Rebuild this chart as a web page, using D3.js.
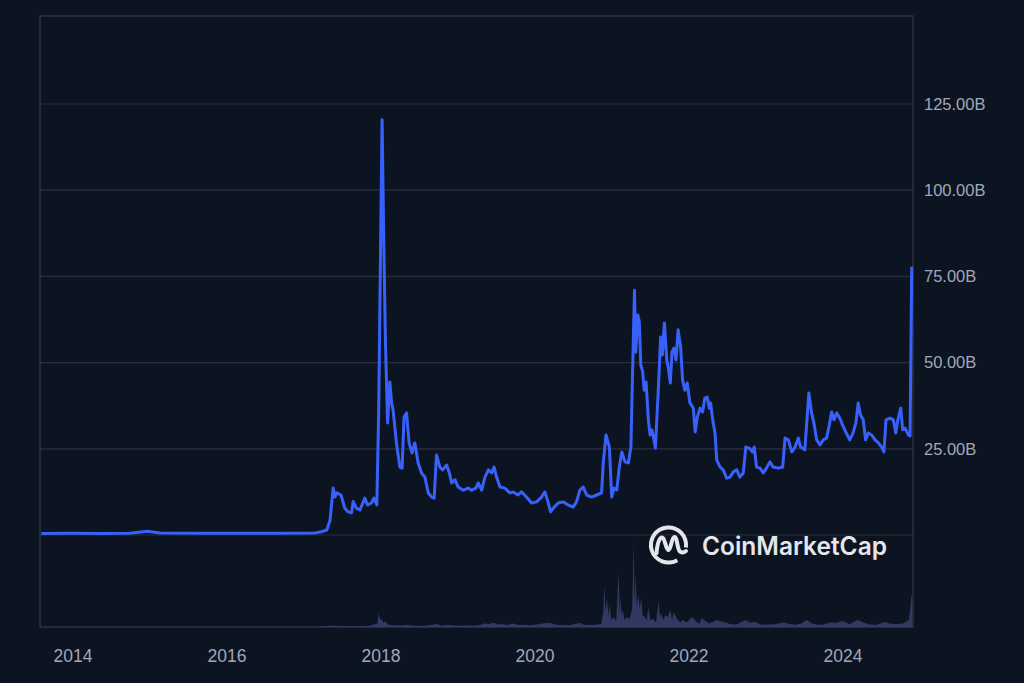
<!DOCTYPE html>
<html>
<head>
<meta charset="utf-8">
<script src="https://cdn.jsdelivr.net/npm/d3@7"></script>
<style>
  html, body { margin: 0; padding: 0; background: #0d1421; }
  svg { display: block; }
</style>
</head>
<body>
<svg id="chart" width="1024" height="683"></svg>
<script>
// ---------- DATA (market cap, billions USD) ----------
const capDates = [
"2013-08-04","2013-12-17","2014-05-08","2014-09-27","2014-12-22","2015-02-17","2015-08-25","2016-03-03","2016-09-09","2017-02-21",
"2017-03-25","2017-04-19","2017-05-04","2017-05-19","2017-05-27","2017-06-05","2017-06-25","2017-07-13","2017-07-29","2017-08-14",
"2017-08-22","2017-09-06","2017-09-23","2017-10-16","2017-10-29","2017-11-17","2017-11-28","2017-12-12","2017-12-21","2017-12-30",
"2018-01-06","2018-01-14","2018-01-22","2018-02-01","2018-02-12","2018-02-20","2018-02-27","2018-03-15","2018-03-31","2018-04-11",
"2018-04-20","2018-05-02","2018-05-14","2018-05-28","2018-06-10","2018-06-26","2018-07-12","2018-07-28","2018-08-13","2018-08-29",
"2018-09-10","2018-09-21","2018-10-07","2018-10-20","2018-11-08","2018-11-21","2018-12-02","2018-12-18","2019-01-02","2019-01-26",
"2019-02-19","2019-03-07","2019-03-27","2019-04-07","2019-04-23","2019-05-09","2019-05-25","2019-06-10","2019-06-21","2019-07-03",
"2019-07-19","2019-08-11","2019-09-04","2019-09-20","2019-10-13","2019-10-29","2019-11-22","2019-12-16","2020-01-09","2020-02-01",
"2020-02-17","2020-03-04","2020-03-15","2020-03-28","2020-04-20","2020-05-14","2020-06-07","2020-06-30","2020-07-16","2020-08-01",
"2020-08-17","2020-09-02","2020-09-26","2020-10-20","2020-11-12","2020-11-20","2020-12-03","2020-12-19","2020-12-30","2021-01-10",
"2021-01-23","2021-02-04","2021-02-16","2021-03-03","2021-03-19","2021-03-31","2021-04-09","2021-04-17","2021-04-23","2021-05-03",
"2021-05-10","2021-05-17","2021-05-26","2021-06-02","2021-06-11","2021-06-22","2021-06-30","2021-07-08","2021-07-16","2021-07-25",
"2021-08-08","2021-08-19","2021-08-27","2021-09-06","2021-09-17","2021-09-26","2021-10-04","2021-10-12","2021-10-21","2021-10-31",
"2021-11-10","2021-11-22","2021-12-01","2021-12-12","2021-12-23","2022-01-05","2022-01-21","2022-01-30","2022-02-09","2022-02-22",
"2022-03-06","2022-03-17","2022-03-28","2022-04-07","2022-04-13","2022-04-23","2022-05-04","2022-05-12","2022-05-28","2022-06-12",
"2022-06-28","2022-07-14","2022-07-30","2022-08-15","2022-08-30","2022-09-15","2022-09-27","2022-10-13","2022-10-29","2022-11-06",
"2022-11-17","2022-12-03","2022-12-19","2023-01-03","2023-01-19","2023-02-04","2023-02-28","2023-03-21","2023-04-01","2023-04-17",
"2023-05-03","2023-05-19","2023-06-03","2023-06-14","2023-07-04","2023-07-15","2023-07-23","2023-08-05","2023-08-16","2023-08-29",
"2023-09-14","2023-09-29","2023-10-15","2023-10-28","2023-11-08","2023-11-19","2023-12-02","2023-12-17","2023-12-30","2024-01-14",
"2024-02-02","2024-02-18","2024-03-02","2024-03-13","2024-03-24","2024-04-06","2024-04-17","2024-04-30","2024-05-16","2024-06-01",
"2024-06-17","2024-07-02","2024-07-13","2024-07-23","2024-08-11","2024-08-27","2024-09-07","2024-09-17","2024-10-01","2024-10-10",
"2024-10-21","2024-11-06","2024-11-14","2024-11-22"
];
const capValues = [
0.45,0.5,0.45,0.5,1.1,0.6,0.5,0.5,0.5,0.6,
0.95,1.45,4.3,13.6,11.0,12.2,11.6,7.8,6.7,6.4,
9.7,7.8,7.25,10.7,8.7,9.3,10.7,8.7,36.3,84.7,
120.4,84.7,55.7,32.5,44.4,38.3,36.3,26.7,19.7,19.4,
34.2,35.4,26.7,23.8,26.7,20.9,18.0,16.8,12.2,11.0,
10.7,23.2,19.7,18.9,20.3,18.0,15.1,16.0,13.9,13.0,
13.6,13.0,13.6,15.1,13.0,16.8,18.9,18.0,19.7,16.8,
13.9,13.6,12.2,12.5,11.6,12.5,11.0,9.3,9.6,11.0,
12.5,9.3,6.7,7.8,9.3,9.6,8.7,8.1,9.6,13.0,
13.9,11.6,11.0,11.6,12.2,20.9,29.0,25.5,11.0,13.6,
13.0,19.7,24.1,21.2,20.9,25.5,49.9,71.0,53.0,63.8,
61.8,49.3,47.3,42.0,44.4,33.4,29.0,30.5,28.4,25.2,
42.0,57.4,52.2,61.5,50.8,47.9,44.1,53.1,54.2,50.8,
59.5,54.5,45.0,42.0,44.1,38.3,36.8,29.9,34.2,36.8,
35.7,39.7,40.0,36.8,38.3,33.4,29.6,21.8,19.7,18.9,
16.5,16.8,18.3,18.9,16.8,18.0,25.5,25.2,24.1,25.5,
19.7,19.4,18.0,19.4,21.2,19.7,19.4,19.7,28.1,27.6,
24.1,25.5,28.1,25.5,24.7,34.2,41.2,35.4,32.5,27.6,
26.1,27.6,28.1,31.9,35.7,33.4,35.4,33.9,31.9,29.9,
27.6,29.6,32.5,38.3,34.8,33.4,27.6,29.6,29.0,27.6,
26.7,25.5,24.1,33.4,33.9,33.4,29.6,33.4,36.8,30.5,
31.0,29.0,28.7,77.8
];

// ---------- DATA (volume, billions USD) ----------
const volDates = [
"2017-03-15","2017-05-20","2017-07-01","2017-09-01","2017-11-01","2017-12-15","2017-12-21","2017-12-28","2018-01-05","2018-01-12",
"2018-01-18","2018-02-05","2018-03-01","2018-04-01","2018-05-01","2018-06-01","2018-07-01","2018-08-01","2018-09-21","2018-10-15",
"2018-11-15","2018-12-15","2019-01-15","2019-02-15","2019-03-15","2019-04-10","2019-05-10","2019-05-25","2019-06-20","2019-07-10",
"2019-08-01","2019-08-20","2019-09-20","2019-10-15","2019-11-10","2019-12-10","2020-01-15","2020-02-15","2020-03-12","2020-04-10",
"2020-05-10","2020-06-10","2020-07-10","2020-08-01","2020-08-20","2020-09-20","2020-10-20","2020-11-10","2020-11-20","2020-11-25",
"2020-12-01","2020-12-08","2020-12-14","2020-12-20","2020-12-29","2021-01-10","2021-01-20","2021-02-01","2021-02-06","2021-02-10",
"2021-02-15","2021-02-20","2021-03-01","2021-03-10","2021-03-25","2021-04-06","2021-04-13","2021-04-18","2021-04-22","2021-04-28",
"2021-05-05","2021-05-12","2021-05-19","2021-05-26","2021-06-05","2021-06-14","2021-06-22","2021-07-01","2021-07-15","2021-07-28",
"2021-08-10","2021-08-15","2021-08-20","2021-09-01","2021-09-10","2021-09-20","2021-10-05","2021-10-12","2021-10-20","2021-11-05",
"2021-11-20","2021-12-01","2021-12-20","2022-01-15","2022-02-05","2022-02-20","2022-03-01","2022-04-05","2022-05-12","2022-06-15",
"2022-07-15","2022-08-15","2022-09-25","2022-10-15","2022-11-10","2022-12-10","2023-01-10","2023-02-10","2023-03-25","2023-04-20",
"2023-05-20","2023-06-15","2023-07-13","2023-08-05","2023-09-01","2023-10-01","2023-11-01","2023-12-01","2024-01-01","2024-02-01",
"2024-03-10","2024-04-10","2024-05-10","2024-06-10","2024-07-15","2024-08-10","2024-09-10","2024-10-10","2024-11-08","2024-11-16",
"2024-11-20","2024-11-24"
];
const volValues = [
0.1,0.6,0.3,0.3,0.4,1.5,6.1,3.0,3.5,1.5,
2.6,1.0,0.8,0.6,0.9,0.5,0.4,0.5,1.3,0.5,
0.9,0.6,0.5,0.6,0.5,0.8,1.6,1.2,1.9,1.1,
1.3,0.9,1.5,0.9,1.0,0.8,1.2,1.6,1.8,1.0,
0.9,0.8,1.3,1.7,1.0,0.9,1.0,1.4,6.5,18.3,
7.0,12.6,5.0,9.6,3.0,4.3,2.5,24.0,6.0,13.0,
5.0,7.4,3.0,4.3,3.5,8.0,37.0,10.0,23.5,9.0,
13.9,8.0,12.6,5.0,4.3,3.0,8.7,3.0,3.5,2.0,
11.7,4.0,6.1,3.0,5.2,4.3,7.4,3.0,6.5,3.5,
2.0,3.0,2.0,4.3,2.2,1.5,3.9,1.5,3.0,2.2,
1.3,1.1,3.0,2.0,2.2,1.0,1.1,1.2,2.0,1.3,
1.0,1.4,3.0,1.6,1.0,1.1,2.0,1.8,2.6,1.2,
3.0,1.8,1.1,1.0,2.2,1.5,1.2,1.5,3.0,8.7,
13.9,12.6
];

const yTickValues = [0, 25, 50, 75, 100, 125];
const xTickYears = [2014, 2016, 2018, 2020, 2022, 2024];

// ---------- LAYOUT ----------
const plot = { left: 40, right: 913, top: 16, bottom: 627 };
const parse = d3.timeParse("%Y-%m-%d");
const cap = capDates.map((d, i) => ({ date: parse(d), v: capValues[i] }));
const vol = volDates.map((d, i) => ({ date: parse(d), v: volValues[i] }));

const x = d3.scaleTime()
  .domain([new Date(2014, 0, 1), new Date(2024, 0, 1)])
  .range([73, 843]);
const y = d3.scaleLinear().domain([0, 125]).range([535, 104]);
const yVol = d3.scaleLinear().domain([0, 40]).range([plot.bottom, 535]);

const svg = d3.select("#chart");
svg.append("rect").attr("width", 1024).attr("height", 683).attr("fill", "#0d1421");

// gridlines
svg.append("g").selectAll("line").data(yTickValues).join("line")
  .attr("x1", plot.left).attr("x2", plot.right)
  .attr("y1", d => y(d)).attr("y2", d => y(d))
  .attr("stroke", "#2a2f3e").attr("stroke-width", 1.2);

// frame
svg.append("rect")
  .attr("x", plot.left).attr("y", plot.top)
  .attr("width", plot.right - plot.left).attr("height", plot.bottom - plot.top)
  .attr("fill", "none").attr("stroke", "#343949").attr("stroke-width", 1.2);

// y labels
svg.append("g").selectAll("text").data(yTickValues.filter(d => d > 0)).join("text")
  .attr("x", 924).attr("y", d => y(d))
  .attr("dy", "0.35em")
  .attr("fill", "#a1a7bb")
  .attr("font-family", "'Liberation Sans', Arial, sans-serif")
  .attr("font-size", 16.5)
  .text(d => d3.format(".2f")(d) + "B");

// x labels
svg.append("g").selectAll("text").data(xTickYears).join("text")
  .attr("x", d => x(new Date(d, 0, 1))).attr("y", 662)
  .attr("text-anchor", "middle")
  .attr("fill", "#a1a7bb")
  .attr("font-family", "'Liberation Sans', Arial, sans-serif")
  .attr("font-size", 17.5)
  .text(d => d);

// volume
const volArea = d3.area()
  .x(d => x(d.date)).y0(yVol(0)).y1(d => yVol(d.v));
svg.append("path")
  .datum([{ date: vol[0].date, v: 0 }, ...vol, { date: vol[vol.length - 1].date, v: 0 }])
  .attr("d", volArea)
  .attr("fill", "#36406c").attr("fill-opacity", 0.85);

// watermark logo
const logo = svg.append("g").attr("transform", "translate(668.5,545)");
logo.append("path")
  .attr("d", d3.arc().innerRadius(15.6).outerRadius(19.6)
    .startAngle(150 * Math.PI / 180).endAngle(458 * Math.PI / 180)())
  .attr("fill", "#e4e6ec");
logo.append("path")
  .attr("d", "M-12,8 C-11,-4 -8,-9 -5.5,-7 C-3.5,-5.5 -2.5,5 0,5 C2.5,5 3,-8 6,-8 C8.8,-8 8.6,3 11,6 C12.5,8 15,8 17.5,6")
  .attr("fill", "none").attr("stroke", "#e4e6ec").attr("stroke-width", 4)
  .attr("stroke-linecap", "round").attr("stroke-linejoin", "round");
svg.append("text")
  .attr("x", 702).attr("y", 555)
  .attr("fill", "#e4e6ec")
  .attr("font-family", "Inter, 'Open Sans', sans-serif")
  .attr("font-weight", 600)
  .attr("font-size", 25)
  .attr("textLength", 185).attr("lengthAdjust", "spacingAndGlyphs")
  .text("CoinMarketCap");

// market cap line
const line = d3.line().x(d => x(d.date)).y(d => y(d.v));
svg.append("path")
  .datum(cap)
  .attr("d", line)
  .attr("fill", "none")
  .attr("stroke", "#3861fb")
  .attr("stroke-width", 3)
  .attr("stroke-linejoin", "round");
</script>
</body>
</html>
